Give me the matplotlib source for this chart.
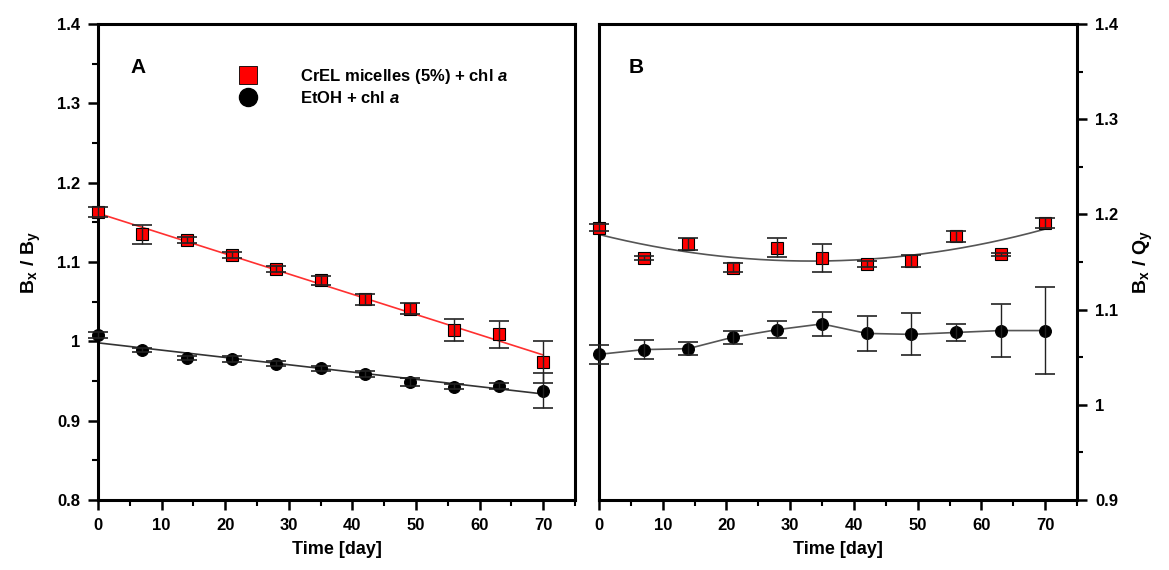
import matplotlib
matplotlib.use("Agg")
import matplotlib.pyplot as plt
from matplotlib.ticker import MultipleLocator, FuncFormatter
from matplotlib.lines import Line2D
import numpy as np

plt.rcParams['font.family'] = ['Liberation Sans', 'DejaVu Sans']
plt.rcParams['font.weight'] = 'bold'
plt.rcParams['mathtext.fontset'] = 'custom'
plt.rcParams['mathtext.rm'] = 'Liberation Sans:bold'
plt.rcParams['mathtext.bf'] = 'Liberation Sans:bold'
plt.rcParams['mathtext.it'] = 'Liberation Sans:italic:bold'

# time points (days)
days = np.array([0, 7, 14, 21, 28, 35, 42, 49, 56, 63, 70])

# panel A: Bx / By
a_crel = np.array([1.163, 1.135, 1.128, 1.109, 1.091, 1.077, 1.053, 1.041, 1.014, 1.009, 0.974])
a_crel_err = np.array([0.006, 0.012, 0.004, 0.004, 0.004, 0.006, 0.007, 0.007, 0.014, 0.017, 0.026])
a_etoh = np.array([1.008, 0.989, 0.979, 0.978, 0.972, 0.966, 0.959, 0.949, 0.943, 0.944, 0.938])
a_etoh_err = np.array([0.004, 0.003, 0.003, 0.004, 0.003, 0.003, 0.004, 0.005, 0.003, 0.004, 0.022])

# panel B: Bx / Qy
b_crel = np.array([1.186, 1.154, 1.169, 1.144, 1.165, 1.154, 1.148, 1.151, 1.177, 1.158, 1.191])
b_crel_err = np.array([0.0035, 0.002, 0.0065, 0.005, 0.010, 0.015, 0.0035, 0.006, 0.006, 0.002, 0.005])
b_etoh = np.array([1.053, 1.058, 1.059, 1.071, 1.079, 1.085, 1.075, 1.074, 1.076, 1.078, 1.078])
b_etoh_err = np.array([0.010, 0.010, 0.007, 0.007, 0.009, 0.013, 0.018, 0.022, 0.009, 0.028, 0.046])

lab_crel = r'CrEL micelles (5%) + chl $\it{a}$'
lab_etoh = r'EtOH + chl $\it{a}$'

fig = plt.figure(figsize=(11.69, 5.70), dpi=100)
axA = fig.add_axes([0.0838, 0.1228, 0.408, 0.835])
axB = fig.add_axes([0.5124, 0.1228, 0.4089, 0.835])

tfit = np.linspace(0, 70, 200)
fmt = FuncFormatter(lambda v, p: '%g' % round(v, 3))


def points(ax, y, err, marker, color):
    ax.plot(days, y, linestyle='none', marker=marker, ms=8.5, mfc=color,
            mec='black', mew=0.8, zorder=3, clip_on=False)
    eb = ax.errorbar(days, y, yerr=err, fmt='none', ecolor='#222222', elinewidth=1.0,
                     capsize=7, capthick=1.2, zorder=4)
    for art in eb.get_children():
        art.set_clip_on(False)


def style(ax):
    for s in ax.spines.values():
        s.set_linewidth(2.2)
    ax.set_xlim(0, 75)
    ax.xaxis.set_major_locator(MultipleLocator(10))
    ax.xaxis.set_minor_locator(MultipleLocator(5))
    ax.yaxis.set_major_locator(MultipleLocator(0.1))
    ax.yaxis.set_minor_locator(MultipleLocator(0.05))
    ax.yaxis.set_major_formatter(fmt)
    ax.tick_params(which='major', direction='out', length=7, width=1.8, labelsize=12, pad=6)
    ax.tick_params(which='minor', direction='out', length=4, width=1.5)
    ax.set_xlabel('Time [day]', fontsize=13, fontweight='bold', labelpad=6)


# panel A
style(axA)
axA.set_ylim(0.8, 1.4)
pA1 = np.polyfit(days, a_crel, 1)
pA2 = np.polyfit(days, a_etoh, 1)
axA.plot(tfit, np.polyval(pA1, tfit), color='#ff3030', lw=1.2, zorder=2)
axA.plot(tfit, np.polyval(pA2, tfit), color='#333333', lw=1.2, zorder=2)
points(axA, a_crel, a_crel_err, 's', '#ff0000')
points(axA, a_etoh, a_etoh_err, 'o', 'black')
axA.tick_params(axis='y', which='both', right=False, left=True)
axA.set_ylabel(r'$\mathbf{B_x\ /\ B_y}$', fontsize=14, labelpad=10)
axA.text(0.083, 0.908, 'A', transform=axA.transAxes, fontsize=15,
         fontweight='bold', ha='center', va='center')

handles = [Line2D([], [], linestyle='none', marker='s', ms=13, mfc='#ff0000', mec='black', mew=0.6),
           Line2D([], [], linestyle='none', marker='o', ms=13, mfc='black', mec='black')]
axA.legend(handles, [lab_crel, lab_etoh], loc='upper left', bbox_to_anchor=(0.28, 0.928),
           frameon=False, handlelength=1.0, handletextpad=2.6,
           borderpad=0, labelspacing=0.25, prop={'weight': 'bold', 'size': 12})

# panel B
style(axB)
axB.set_ylim(0.9, 1.4)
pB1 = np.polyfit(days, b_crel, 2)
axB.plot(tfit, np.polyval(pB1, tfit), color='#555555', lw=1.2, zorder=2)
axB.plot(days, b_etoh, color='#555555', lw=1.2, zorder=2)
points(axB, b_crel, b_crel_err, 's', '#ff0000')
points(axB, b_etoh, b_etoh_err, 'o', 'black')
axB.yaxis.tick_right()
axB.yaxis.set_label_position('right')
axB.tick_params(axis='y', which='both', left=False, right=True)
axB.set_ylabel(r'$\mathbf{B_x\ /\ Q_y}$', fontsize=14, labelpad=10)
axB.text(0.077, 0.908, 'B', transform=axB.transAxes, fontsize=15,
         fontweight='bold', ha='center', va='center')

fig.savefig('out.png', dpi=100)
